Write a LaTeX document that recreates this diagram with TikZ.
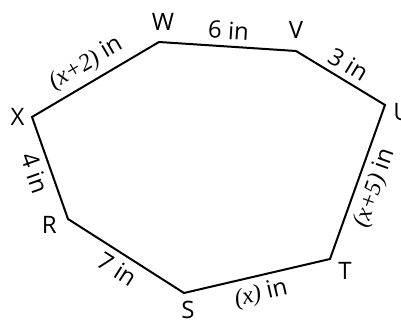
\documentclass[tikz,border=0pt]{standalone}
\usepackage{fontspec}
\setmainfont{Open Sans}
\newfontfamily\varfont{Liberation Serif}
\newcommand{\vx}[1]{{\varfont\itshape #1}}
\usetikzlibrary{positioning}

\begin{document}
\begin{tikzpicture}[
  x=0.5pt,y=0.5pt,
  font=\fontsize{12}{14}\selectfont,
  side/.style={line width=1pt,line join=miter},
  vlbl/.style={inner sep=1pt},
  elbl/.style={sloped,inner sep=1pt}
]
\useasboundingbox (0,0) rectangle (401,327);
% corners of the heptagon
\coordinate (W) at (159,285);
\coordinate (V) at (296,276);
\coordinate (U) at (385,222);
\coordinate (T) at (330,68);
\coordinate (S) at (184,34);
\coordinate (R) at (68,108);
\coordinate (X) at (32,210);
% corner letters
\node[vlbl,above=4.5pt of W,xshift=2pt] (lW) {W};
\node[vlbl,above=5pt of V] (lV) {V};
\node[vlbl,right=3pt of U,yshift=-3.5pt] (lU) {U};
\node[vlbl,below right=0.5pt and 3pt of T] (lT) {T};
\node[vlbl,below=3pt of S,xshift=2pt] (lS) {S};
\node[vlbl,left=4.5pt of R,yshift=-3pt] (lR) {R};
\node[vlbl,left=2.5pt of X] (lX) {X};
% sides with lengths
\draw[side] (W) -- node[elbl,above=2pt] (sWV) {6 in}
  (V) -- node[elbl,above=2pt] (sVU) {3 in}
  (U) -- node[elbl,below=2pt] (sUT) {\vx{(x+5)} in}
  (T) -- node[elbl,below=2pt] (sTS) {\vx{(x)} in}
  (S) -- node[elbl,below=2pt] (sSR) {7 in}
  (R) -- node[elbl,below=2pt] (sRX) {4 in}
  (X) -- node[elbl,above=2pt] (sXW) {\vx{(x+2)} in}
  cycle;
\end{tikzpicture}
\end{document}
